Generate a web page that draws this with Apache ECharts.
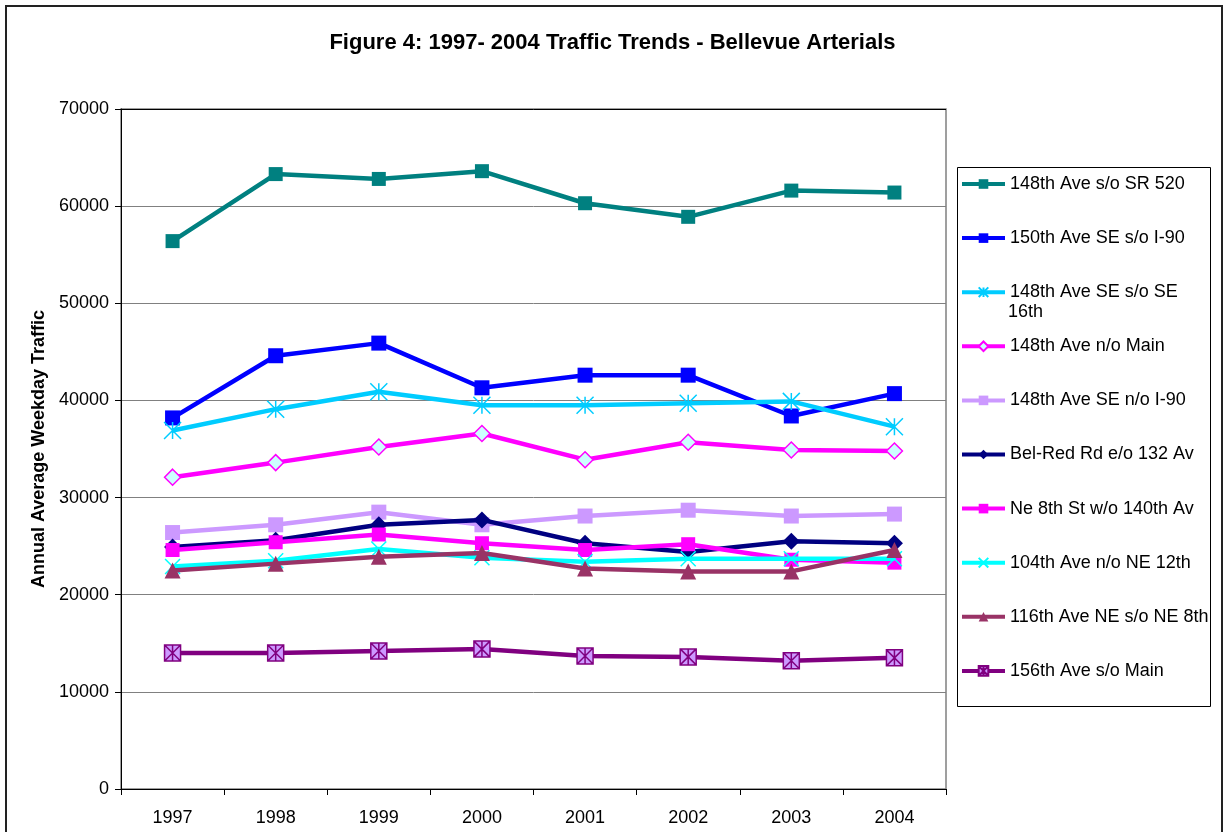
<!DOCTYPE html>
<html>
<head>
<meta charset="utf-8">
<script src="https://cdn.jsdelivr.net/npm/echarts@6/dist/echarts.min.js"></script>
<style>
html,body{margin:0;padding:0;background:#fff;}
#chart{width:1225px;height:832px;}
</style>
</head>
<body>
<div id="chart"></div>
<script>
// ---- data ----
const years = ['1997', '1998', '1999', '2000', '2001', '2002', '2003', '2004'];
const seriesNames = [
  '148th Ave s/o SR 520',
  '150th Ave SE s/o I-90',
  '148th Ave SE s/o SE 16th',
  '148th Ave n/o Main',
  '148th Ave SE n/o I-90',
  'Bel-Red Rd e/o 132 Av',
  'Ne 8th St w/o 140th Av',
  '104th Ave n/o NE 12th',
  '116th Ave NE s/o NE 8th',
  '156th Ave s/o Main'
];
const ave148SR520   = [56400, 63300, 62800, 63600, 60300, 58900, 61600, 61400];
const ave150SEI90   = [38200, 44600, 45900, 41300, 42600, 42600, 38400, 40700];
const ave148SE16th  = [36900, 39100, 40900, 39500, 39500, 39700, 39900, 37300];
const ave148Main    = [32100, 33600, 35200, 36600, 33900, 35700, 34900, 34800];
const ave148SEI90   = [26400, 27200, 28500, 27200, 28100, 28700, 28100, 28300];
const belRed132     = [24900, 25600, 27200, 27700, 25300, 24400, 25500, 25300];
const ne8th140th    = [24600, 25400, 26200, 25300, 24600, 25200, 23600, 23300];
const ave104NE12th  = [22900, 23500, 24700, 23800, 23400, 23700, 23700, 23700];
const ave116NE8th   = [22500, 23200, 23900, 24300, 22700, 22400, 22400, 24600];
const ave156Main    = [14000, 14000, 14200, 14400, 13700, 13600, 13200, 13500];
const yTicks = { min: 0, max: 70000, interval: 10000 };

const allValues = [ave148SR520, ave150SEI90, ave148SE16th, ave148Main, ave148SEI90,
                   belRed132, ne8th140th, ave104NE12th, ave116NE8th, ave156Main];

// ---- styles ----
const FONT = 'Liberation Sans, Arial, sans-serif';
const STAR = 'path://M5 0L5 10M0 0L10 10M10 0L0 10';
const XMARK = 'path://M0 0L10 10M10 0L0 10';
const BOXSTAR = 'path://M0 0L10 0L10 10L0 10Z M5 0L5 10M0 0L10 10M10 0L0 10';
const styles = [
  { line: '#008080', symbol: 'rect', size: 14, item: { color: '#008080' } },
  { line: '#0000FF', symbol: 'rect', size: 15, item: { color: '#0000FF' } },
  { line: '#00CCFF', symbol: STAR, size: 17, item: { color: '#00CCFF', borderColor: '#00CCFF', borderWidth: 1.5 } },
  { line: '#FF00FF', symbol: 'diamond', size: 16, item: { color: '#CCFFFF', borderColor: '#FF00FF', borderWidth: 1.5 } },
  { line: '#CC99FF', symbol: 'rect', size: 15, item: { color: '#CC99FF' } },
  { line: '#000080', symbol: 'diamond', size: 17, item: { color: '#000080' } },
  { line: '#FF00FF', symbol: 'rect', size: 14, item: { color: '#FF00FF' } },
  { line: '#00FFFF', symbol: XMARK, size: 15, item: { color: '#00FFFF', borderColor: '#00FFFF', borderWidth: 1.5 } },
  { line: '#993366', symbol: 'triangle', size: 16, item: { color: '#993366' } },
  { line: '#800080', symbol: BOXSTAR, size: 16, item: { color: '#CC99FF', borderColor: '#800080', borderWidth: 1.5 } }
];

const series = seriesNames.map((name, i) => ({
  name: name,
  type: 'line',
  data: allValues[i],
  symbol: styles[i].symbol,
  symbolSize: styles[i].size,
  showAllSymbol: true,
  lineStyle: { color: styles[i].line, width: 4.5 },
  itemStyle: Object.assign({}, styles[i].item),
  emphasis: { disabled: true },
  z: 2 + i
}));

const legends = seriesNames.map((name, i) => ({
  data: [name],
  left: 960,
  top: 184 + 54.1 * i - 10,
  orient: 'vertical',
  padding: 0,
  itemWidth: 43,
  itemHeight: 12,
  selectedMode: false,
  lineStyle: { width: 4 },
  formatter: n => n === '148th Ave SE s/o SE 16th' ? '148th Ave SE s/o SE' : n,
  textStyle: { fontSize: 18, fontFamily: FONT, color: '#000', lineHeight: 20 }
}));

const chart = echarts.init(document.getElementById('chart'), null, { renderer: 'canvas' });
chart.setOption({
  animation: false,
  backgroundColor: '#fff',
  title: {
    text: 'Figure 4: 1997- 2004 Traffic Trends - Bellevue Arterials',
    left: 'center',
    top: 32,
    padding: 0,
    textStyle: { fontSize: 22, fontWeight: 'bold', fontFamily: FONT, color: '#000' }
  },
  grid: {
    left: 121, top: 109, right: 279, bottom: 43,
    show: true, borderColor: '#808080', borderWidth: 1.5, backgroundColor: 'transparent'
  },
  legend: legends,
  xAxis: {
    type: 'category',
    data: years,
    boundaryGap: true,
    axisLine: { lineStyle: { color: '#000', width: 1 } },
    axisTick: { show: true, length: 6, lineStyle: { color: '#000' } },
    axisLabel: { fontSize: 18, fontFamily: FONT, color: '#000', margin: 20 }
  },
  yAxis: {
    type: 'value',
    min: yTicks.min, max: yTicks.max, interval: yTicks.interval,
    name: 'Annual Average Weekday Traffic',
    nameLocation: 'middle',
    nameGap: 60,
    nameRotate: 90,
    nameTextStyle: { fontSize: 18, fontWeight: 'bold', fontFamily: FONT, color: '#000' },
    axisLine: { show: true, lineStyle: { color: '#000', width: 1 } },
    axisTick: { show: true, length: 6, lineStyle: { color: '#000' } },
    axisLabel: { fontSize: 18, fontFamily: FONT, color: '#000', margin: 12, formatter: v => String(v) },
    splitLine: { show: true, lineStyle: { color: ['#808080','#808080','#808080','#808080','#808080','#808080','#808080','#000'], width: 1 } }
  },
  graphic: [
    { type: 'rect', z: 0, silent: true, shape: { x: 6, y: 6, width: 1216, height: 900 },
      style: { fill: 'none', stroke: '#222', lineWidth: 2 } },
    { type: 'rect', z: 0, silent: true, shape: { x: 957.5, y: 167.5, width: 253, height: 539 },
      style: { fill: 'none', stroke: '#000', lineWidth: 1 } },
    { type: 'text', z: 10, silent: true, left: 1008, top: 303,
      style: { text: '16th', fontSize: 18, fontFamily: FONT, fill: '#000' } }
  ],
  series: series
});
</script>
</body>
</html>
